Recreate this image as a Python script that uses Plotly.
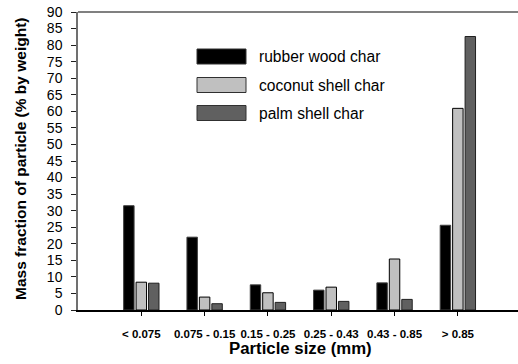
import plotly.graph_objects as go

categories = ["< 0.075", "0.075 - 0.15", "0.15 - 0.25", "0.25 - 0.43", "0.43 - 0.85", "> 0.85"]
rubber_wood = [31.5, 22.0, 7.6, 6.0, 8.2, 25.6]
coconut_shell = [8.4, 3.9, 5.2, 6.9, 15.4, 60.9]
palm_shell = [8.1, 1.9, 2.3, 2.6, 3.2, 82.6]
series_names = ["rubber wood char", "coconut shell char", "palm shell char"]
y_ticks = list(range(0, 91, 5))
x_title = "Particle size (mm)"
y_title = "Mass fraction of particle (% by weight)"

FONT = "Liberation Sans, Arial, sans-serif"
fills = ["#000000", "#c0c0c0", "#606060"]
edges = ["#404040", "#000000", "#202020"]

x_idx = list(range(len(categories)))
fig = go.Figure()
for name, vals, fc, ec in zip(series_names, [rubber_wood, coconut_shell, palm_shell], fills, edges):
    fig.add_trace(go.Bar(
        x=x_idx, y=vals, name=name,
        marker=dict(color=fc, line=dict(color=ec, width=1)),
        showlegend=False, hoverinfo="skip",
    ))

# pixel -> paper helpers (plot area: x 78..518, y 12..310)
def py2paper(py):
    return (310 - py) / 298.0

def px2paper(px):
    return (px - 78) / 440.0

row_centers = [56.5, 85.0, 113.0]
shapes = []
annotations = []
for name, fc, ec, cy in zip(series_names, fills, edges, row_centers):
    shapes.append(dict(type="rect", xref="paper", yref="paper",
                       x0=px2paper(197), x1=px2paper(246),
                       y0=py2paper(cy + 7.5), y1=py2paper(cy - 7.5),
                       fillcolor=fc, line=dict(color="#303030", width=1)))
    annotations.append(dict(text=name, xref="paper", yref="paper",
                            x=px2paper(257), y=py2paper(cy), xanchor="left", yanchor="middle",
                            showarrow=False, font=dict(family=FONT, size=15.6, color="#000000")))

shapes.append(dict(type="line", xref="paper", yref="paper", x0=0, x1=1, y0=1, y1=1,
                   line=dict(color="#808080", width=2)))

annotations.append(dict(text=x_title, xref="paper", yref="paper",
                        x=px2paper(300), y=py2paper(348), xanchor="center", yanchor="middle",
                        showarrow=False,
                        font=dict(family=FONT, size=16.8, color="#000000", weight="bold")))
annotations.append(dict(text=y_title, xref="paper", yref="paper", textangle=-90,
                        x=px2paper(20), y=py2paper(159), xanchor="center", yanchor="middle",
                        showarrow=False,
                        font=dict(family=FONT, size=15.5, color="#000000", weight="bold")))

fig.update_layout(
    width=518, height=364,
    margin=dict(l=78, r=0, t=12, b=54),
    paper_bgcolor="white", plot_bgcolor="white",
    barmode="group", bargap=0.41, bargroupgap=0.16,
    shapes=shapes, annotations=annotations,
    font=dict(family=FONT, color="#000000"),
    hovermode=False,
    xaxis=dict(
        range=[-1, 5.95], automargin=False,
        tickmode="array", tickvals=x_idx, ticktext=categories,
        ticks="outside", ticklen=4, tickcolor="#000000", tickwidth=1,
        ticklabelstandoff=8,
        tickfont=dict(family=FONT, size=11.5, color="#000000", weight="bold"),
        showline=True, linecolor="#000000", linewidth=2,
        showgrid=False, zeroline=False,
    ),
    yaxis=dict(
        range=[0, 90], automargin=False,
        tickmode="array", tickvals=y_ticks,
        ticks="outside", ticklen=5, tickcolor="#202020", tickwidth=1,
        ticklabelstandoff=6,
        tickfont=dict(family=FONT, size=14, color="#000000"),
        showline=True, linecolor="#707070", linewidth=1.5,
        showgrid=False, zeroline=False,
    ),
)

fig.write_html("out.html", config={"displayModeBar": False},
               post_script="document.body.style.margin='0';document.body.style.overflow='hidden';")
